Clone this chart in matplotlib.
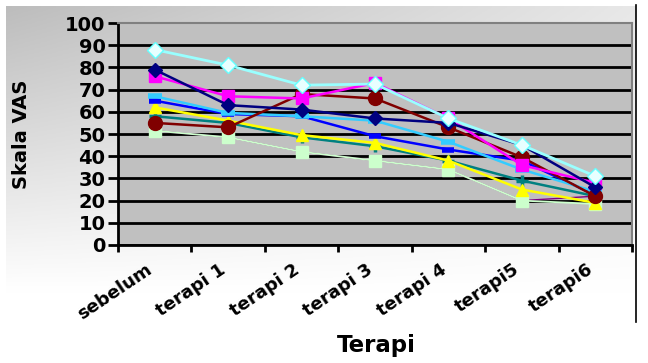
import numpy as np
import matplotlib
matplotlib.use("Agg")
from matplotlib import pyplot as plt
from matplotlib.lines import Line2D
import matplotlib.transforms as mtransforms

plt.rcParams["font.family"] = "DejaVu Sans"
plt.rcParams["font.weight"] = "bold"

categories = ["sebelum", "terapi 1", "terapi 2", "terapi 3", "terapi 4", "terapi5", "terapi6"]

purple = [51.5, 48.5, 42, 38, 34, 20, 22]
pale_green = [51.5, 48.5, 42, 38, 34, 20, 18.5]
teal = [58, 55, 48.5, 44.5, 38, 29, 22]
yellow = [62, 56, 49.5, 46, 38, 25, 19]
blue = [65, 59, 58, 49, 43, 38, 22.5]
sky = [67, 59.5, 58, 56, 46.5, 34, 24]
dark_red = [55, 53, 68, 66, 53, 39.5, 22]
magenta = [76, 67, 66, 73, 57, 36, 28]
navy = [79, 63, 61, 57, 55, 45, 26]
turquoise = [88, 81, 72, 72.5, 57, 45, 31]

yticks = list(range(0, 101, 10))

fig = plt.figure(figsize=(6.48, 3.63), dpi=100)
fig.patch.set_facecolor("white")

# grey-to-white chart area background
bg = fig.add_axes([6 / 648, 0, 630 / 648, 1 - 6 / 363], zorder=-10)
tx = np.linspace(0, 1, 200)[None, :]
ty = np.linspace(0, 1, 120)[:, None]
g = 1 - 0.26 * np.clip(1 - ty * 1.25, 0, 1) * (1 - 0.65 * tx)
bg.imshow(np.dstack([g, g, g]), aspect="auto", extent=[0, 1, 0, 1], origin="upper")
bg.axis("off")

ax = fig.add_axes([118 / 648, 1 - 245 / 363, 514 / 648, 222 / 363])
ax.set_facecolor("#C0C0C0")

x = np.arange(len(categories))
series = [
    (purple, "#800080", "o", "#800080", "#800080", 0, 1.0),
    (pale_green, "#CCFFCC", "s", "#CCFFCC", "#CCFFCC", 9, 1.3),
    (teal, "#008080", "+", "#008080", "#008080", 9, 1.8),
    (yellow, "#FFFF00", "^", "#FFFF00", "#FFFF00", 8, 1.8),
    (blue, "#0000FF", "_", "#0000FF", "#0000FF", 8, 1.8),
    (sky, "#33CCFF", "_", "#33CCFF", "#33CCFF", 10, 1.8),
    (dark_red, "#800000", "o", "#800000", "#800000", 10, 1.8),
    (magenta, "#FF00FF", "s", "#FF00FF", "#FF00FF", 9, 1.8),
    (navy, "#000080", "D", "#000080", "#000080", 7, 1.8),
    (turquoise, "#99FFFF", "D", "#E8FFFF", "#66FFFF", 8, 2.0),
]
for vals, col, mk, mfc, mec, ms, lw in series:
    mew = 4 if mk == "_" else (2.5 if mk == "+" else 1)
    ax.plot(x, vals, color=col, lw=lw, marker=mk, markersize=ms,
            markerfacecolor=mfc, markeredgecolor=mec, markeredgewidth=mew,
            clip_on=False)

ax.set_xlim(-0.5, len(categories) - 0.5)
ax.set_ylim(0, 100)
ax.set_yticks(yticks)
ax.tick_params(axis="y", direction="out", length=7, width=2, labelsize=14, pad=2)
ax.yaxis.grid(True, color="black", lw=2)
ax.yaxis.get_gridlines()[-1].set_visible(False)
ax.set_axisbelow(True)

ax.set_xticks(np.arange(-0.5, len(categories)), labels=[])
ax.tick_params(axis="x", which="major", direction="out", length=5, width=2)
ax.set_xticks(x, labels=categories, minor=True)
ax.tick_params(axis="x", which="minor", length=0, labelsize=13, pad=11)
offset = mtransforms.ScaledTranslation(-9 / 100, 0, fig.dpi_scale_trans)
for lab in ax.get_xticklabels(minor=True):
    lab.set_rotation(34)
    lab.set_ha("right")
    lab.set_va("top")
    lab.set_rotation_mode("anchor")
    lab.set_transform(lab.get_transform() + offset)

for s in ("left", "bottom"):
    ax.spines[s].set_color("black")
    ax.spines[s].set_linewidth(2)
for s in ("top", "right"):
    ax.spines[s].set_color("#808080")
    ax.spines[s].set_linewidth(1.5)

ax.set_ylabel("Skala VAS", fontsize=14, fontweight="bold")
ax.yaxis.set_label_coords(-0.17, 0.5)
ax.set_xlabel("Terapi", fontsize=16.5, fontweight="bold")
ax.xaxis.set_label_coords(0.502, -0.40)

fig.add_artist(Line2D([636 / 648, 636 / 648], [1 - 5 / 363, 1 - 322 / 363],
                      color="black", lw=1.2, transform=fig.transFigure))

fig.savefig("out.png", dpi=100)
